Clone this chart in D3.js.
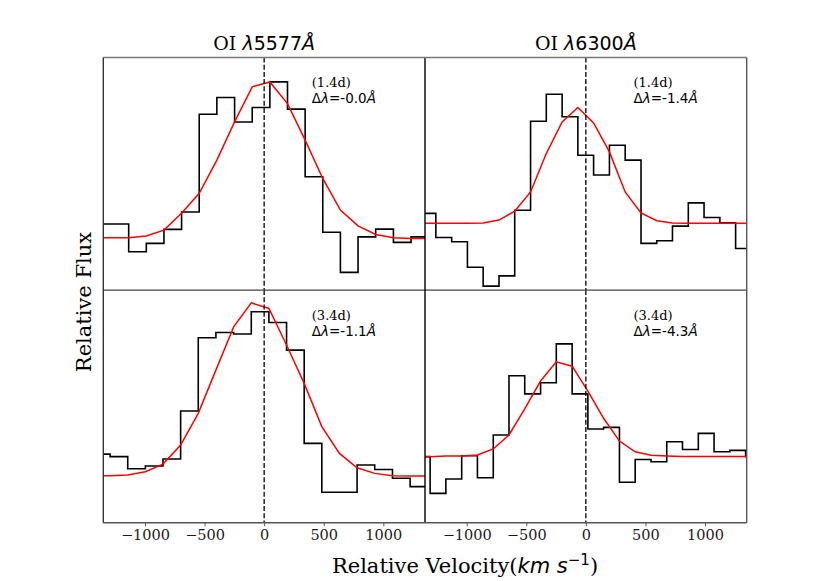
<!DOCTYPE html>
<html lang="en">
<head>
<meta charset="UTF-8">
<title>OI line profiles</title>
<style>
  body { margin: 0; background: #fff; }
  svg { display: block; }
  .tick text { font-family: "DejaVu Serif", serif; font-size: 14.5px; fill: #1a1a1a; }
  .serif { font-family: "DejaVu Serif", serif; fill: #000; }
  .sans { font-family: "DejaVu Sans", sans-serif; fill: #000; }
</style>
</head>
<body>
<script src="https://d3js.org/d3.v7.min.js"></script>
<script>
// velocity grid (bin edges, km/s) and normalised flux
var vel5577a  = [-1137, -989, -841, -693, -545, -397, -248, -100, 48, 196, 344, 492, 640, 788, 936, 1085, 1233, 1381];
var flux5577a = [0.284, 0.165, 0.201, 0.261, 0.336, 0.756, 0.828, 0.723, 0.785, 0.895, 0.778, 0.487, 0.249, 0.076, 0.229, 0.262, 0.205, 0.229];
var fit5577a  = [0.225, 0.233, 0.258, 0.330, 0.416, 0.559, 0.723, 0.874, 0.895, 0.802, 0.645, 0.480, 0.344, 0.276, 0.239, 0.225, 0.222, 0.222];

var vel6300a  = [-1259, -1126, -994, -862, -729, -597, -464, -332, -199, -67, 65, 198, 330, 463, 595, 727, 860, 992, 1125, 1257, 1390];
var flux6300a = [0.330, 0.226, 0.208, 0.098, 0.017, 0.061, 0.343, 0.726, 0.842, 0.745, 0.580, 0.495, 0.623, 0.559, 0.201, 0.212, 0.275, 0.375, 0.312, 0.289, 0.179];
var fit6300a  = [0.287, 0.287, 0.287, 0.289, 0.301, 0.339, 0.422, 0.587, 0.723, 0.785, 0.719, 0.594, 0.422, 0.332, 0.298, 0.288, 0.287, 0.287, 0.287, 0.287, 0.287];

var vel5577b  = [-1293, -1145, -997, -849, -701, -553, -405, -256, -108, 40, 188, 336, 484, 632, 780, 928, 1077, 1225, 1373];
var flux5577b = [0.295, 0.284, 0.232, 0.244, 0.274, 0.480, 0.795, 0.818, 0.811, 0.907, 0.861, 0.742, 0.341, 0.131, 0.131, 0.248, 0.229, 0.191, 0.155];
var fit5577b  = [0.202, 0.205, 0.219, 0.252, 0.334, 0.470, 0.656, 0.842, 0.945, 0.921, 0.764, 0.599, 0.413, 0.298, 0.236, 0.212, 0.202, 0.201, 0.201];

var vel6300b  = [-1307, -1175, -1042, -910, -777, -645, -513, -380, -248, -115, 17, 149, 282, 414, 547, 679, 811, 944, 1076, 1209, 1341, 1473];
var flux6300b = [0.284, 0.126, 0.188, 0.288, 0.193, 0.377, 0.632, 0.554, 0.602, 0.769, 0.554, 0.403, 0.410, 0.174, 0.272, 0.262, 0.348, 0.315, 0.384, 0.305, 0.311, 0.284];
var fit6300b  = [0.284, 0.287, 0.287, 0.291, 0.317, 0.377, 0.489, 0.609, 0.692, 0.673, 0.566, 0.449, 0.351, 0.305, 0.290, 0.287, 0.285, 0.285, 0.285, 0.285, 0.285, 0.285];

var epochs = ["(1.4d)", "(1.4d)", "(3.4d)", "(3.4d)"];
var shifts = ["-0.0", "-1.4", "-1.1", "-4.3"];
var lineNames = ["5577", "6300"];
var xTicks = [-1000, -500, 0, 500, 1000];

var width = 830, height = 581;
var mLeft = 103.3, mRight = 746.7, mTop = 57.5, mBottom = 522.7;
var pw = (mRight - mLeft) / 2, ph = (mBottom - mTop) / 2;

var svg = d3.select("body").append("svg")
    .attr("width", width).attr("height", height);

var x = d3.scaleLinear().domain([-1350, 1350]).range([0, pw]);
var y = d3.scaleLinear().domain([0, 1]).range([ph, 0]);

var panels = [
  {vel: vel5577a, flux: flux5577a, fit: fit5577a, col: 0, row: 0},
  {vel: vel6300a, flux: flux6300a, fit: fit6300a, col: 1, row: 0},
  {vel: vel5577b, flux: flux5577b, fit: fit5577b, col: 0, row: 1},
  {vel: vel6300b, flux: flux6300b, fit: fit6300b, col: 1, row: 1}
];

svg.append("defs").append("clipPath").attr("id", "clip")
  .append("rect").attr("width", pw).attr("height", ph);

var stepLine = d3.line().x(d => x(d[0])).y(d => y(d[1])).curve(d3.curveStepBefore);
var fitLine = d3.line().x(d => x(d[0])).y(d => y(d[1]));

panels.forEach(function(p, i) {
  var g = svg.append("g")
      .attr("transform", "translate(" + (mLeft + p.col * pw) + "," + (mTop + p.row * ph) + ")");
  var plot = g.append("g").attr("clip-path", "url(#clip)");

  // extend first value to the left edge of the axes
  var obs = [[x.domain()[0], p.flux[0]]].concat(p.vel.map((v, k) => [v, p.flux[k]]));
  var fit = [[x.domain()[0], p.fit[0]]].concat(p.vel.map((v, k) => [v, p.fit[k]]));

  plot.append("path").attr("d", stepLine(obs))
    .attr("fill", "none").attr("stroke", "#000").attr("stroke-width", 1.6);
  plot.append("path").attr("d", fitLine(fit))
    .attr("fill", "none").attr("stroke", "#f00").attr("stroke-width", 1.5);
  plot.append("line")
    .attr("x1", x(0)).attr("x2", x(0)).attr("y1", 0).attr("y2", ph)
    .attr("stroke", "#000").attr("stroke-width", 1.3).attr("stroke-dasharray", "5,2.2");

  // labels
  g.append("text").attr("x", x(400)).attr("y", 29.5)
    .attr("class", "serif").style("font-size", "13px").text(epochs[i]);
  var t2 = g.append("text").attr("x", x(400)).attr("y", 45.5)
    .attr("class", "sans").style("font-size", "13.5px");
  t2.append("tspan").text("\u0394");
  t2.append("tspan").style("font-style", "italic").text("\u03bb");
  t2.append("tspan").text("=" + shifts[i]);
  t2.append("tspan").style("font-style", "italic").text("\u00c5");

  if (p.row === 1) {
    var ax = g.append("g").attr("transform", "translate(0," + ph + ")")
      .call(d3.axisBottom(x).tickValues(xTicks).tickFormat(d3.format("d"))
        .tickSize(3.5).tickPadding(4));
    ax.select(".domain").remove();
    ax.selectAll(".tick line").attr("stroke", "#555");
  }
  if (p.row === 0) {
    var title = svg.append("text")
      .attr("x", mLeft + p.col * pw + pw / 2).attr("y", 50)
      .attr("text-anchor", "middle").attr("class", "serif").style("font-size", "19px");
    title.append("tspan").text("OI ");
    title.append("tspan").attr("class", "sans").style("font-style", "italic").text("\u03bb");
    title.append("tspan").attr("class", "sans").text(lineNames[p.col]);
    title.append("tspan").attr("class", "sans").style("font-style", "italic").text("\u00c5");
  }
});

// frame
svg.append("line").attr("x1", mLeft).attr("x2", mRight).attr("y1", mTop + ph).attr("y2", mTop + ph)
  .attr("stroke", "#444").attr("stroke-width", 1.2);
svg.append("line").attr("x1", mLeft + pw).attr("x2", mLeft + pw).attr("y1", mTop).attr("y2", mBottom)
  .attr("stroke", "#000").attr("stroke-width", 1.4);
svg.append("line").attr("x1", mLeft).attr("x2", mRight).attr("y1", mTop).attr("y2", mTop)
  .attr("stroke", "#777").attr("stroke-width", 1.4);
svg.append("line").attr("x1", mLeft).attr("x2", mRight).attr("y1", mBottom).attr("y2", mBottom)
  .attr("stroke", "#555").attr("stroke-width", 1.4);
svg.append("line").attr("x1", mRight).attr("x2", mRight).attr("y1", mTop).attr("y2", mBottom)
  .attr("stroke", "#555").attr("stroke-width", 1.4);
svg.append("line").attr("x1", mLeft).attr("x2", mLeft).attr("y1", mTop).attr("y2", mBottom)
  .attr("stroke", "#333").attr("stroke-width", 1.4);

// axis labels
var xl = svg.append("text").attr("x", 465).attr("y", 573)
  .attr("text-anchor", "middle").attr("class", "serif").style("font-size", "21px");
xl.append("tspan").text("Relative Velocity(");
xl.append("tspan").attr("class", "sans").style("font-style", "italic").text("km s");
xl.append("tspan").attr("class", "sans").attr("dy", -8).style("font-size", "15px").text("\u22121");
xl.append("tspan").attr("dy", 8).text(")");

svg.append("text")
  .attr("transform", "translate(91,302) rotate(-90)")
  .attr("text-anchor", "middle").attr("class", "serif").style("font-size", "21px")
  .text("Relative Flux");
</script>
</body>
</html>
